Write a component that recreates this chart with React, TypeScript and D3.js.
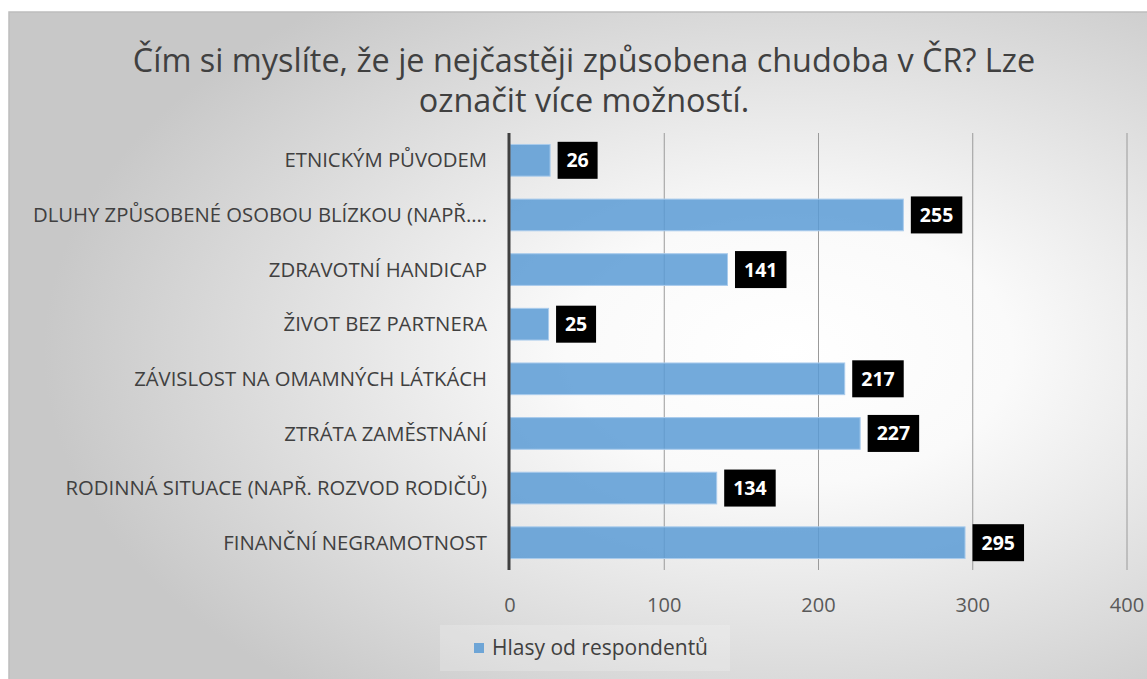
import React from "react";
import * as d3 from "d3";

const categories = [
  "ETNICKÝM PŮVODEM",
  "DLUHY ZPŮSOBENÉ OSOBOU BLÍZKOU (NAPŘ.…",
  "ZDRAVOTNÍ HANDICAP",
  "ŽIVOT BEZ PARTNERA",
  "ZÁVISLOST NA OMAMNÝCH LÁTKÁCH",
  "ZTRÁTA ZAMĚSTNÁNÍ",
  "RODINNÁ SITUACE (NAPŘ. ROZVOD RODIČŮ)",
  "FINANČNÍ NEGRAMOTNOST",
];
const values = [26, 255, 141, 25, 217, 227, 134, 295];
const ticks = [0, 100, 200, 300, 400];
const titleLines = [
  "Čím si myslíte, že je nejčastěji způsobena chudoba v ČR? Lze",
  "označit více možností.",
];
const seriesName = "Hlasy od respondentů";

const W = 1147;
const H = 679;
const FONT = "'Open Sans', 'DejaVu Sans', sans-serif";

export default function App() {
  const x = d3.scaleLinear().domain([0, 400]).range([510, 1127]);
  const y = d3
    .scaleBand<string>()
    .domain(categories)
    .range([133, 570])
    .paddingInner(0.42)
    .paddingOuter(0.21);
  const [y0, y1] = y.range();

  return (
    <svg
      width={W}
      height={H}
      style={{ position: "absolute", left: 0, top: 0, display: "block" }}
    >
      <defs>
        <radialGradient id="bg" cx="0.68" cy="0.5" r="0.65" fx="0.68" fy="0.5">
          <stop offset="0" stopColor="#ffffff" />
          <stop offset="0.3" stopColor="#fafafa" />
          <stop offset="1" stopColor="#c8c8c8" />
        </radialGradient>
      </defs>
      <rect x={0} y={0} width={W} height={H} fill="#ffffff" />
      <rect x={9} y={12} width={W} height={H} fill="url(#bg)" stroke="#bdbdbd" strokeWidth={1.5} />

      {titleLines.map((t, i) => (
        <text
          key={i}
          x={584}
          y={72 + i * 40}
          textAnchor="middle"
          fontFamily={FONT}
          fontSize={32.4}
          fill="#404040"
        >
          {t}
        </text>
      ))}

      {ticks.slice(1).map((t) => (
        <line key={t} x1={x(t)} x2={x(t)} y1={y0} y2={y1} stroke="#9a9a9a" strokeWidth={1} />
      ))}

      {categories.map((c, i) => {
        const v = values[i];
        const by = y(c)!;
        const bw = y.bandwidth();
        const cy = by + bw / 2;
        const txt = String(v);
        const boxW = txt.length * 11.5 + 17;
        const bx = x(v) + 7.5;
        return (
          <g key={c}>
            <rect
              x={x(0)}
              y={by}
              width={x(v) - x(0)}
              height={bw}
              fill="#5b9bd5"
              fillOpacity={0.85}
              stroke="#a9cbec"
              strokeWidth={1}
            />
            <text
              x={487}
              y={cy}
              dy="0.35em"
              textAnchor="end"
              fontFamily={FONT}
              fontSize={20.3}
              fill="#404040"
            >
              {c}
            </text>
            <rect x={bx} y={cy - 18.5} width={boxW} height={37} fill="#000000" />
            <text
              x={bx + boxW / 2}
              y={cy}
              dy="0.36em"
              textAnchor="middle"
              fontFamily={FONT}
              fontSize={19.5}
              fontWeight={700}
              fill="#ffffff"
            >
              {txt}
            </text>
          </g>
        );
      })}

      <line x1={x(0) - 1} x2={x(0) - 1} y1={y0} y2={y1} stroke="#404040" strokeWidth={3} />

      {ticks.map((t) => (
        <text
          key={t}
          x={x(t)}
          y={605}
          dy="0.35em"
          textAnchor="middle"
          fontFamily={FONT}
          fontSize={20}
          fill="#595959"
        >
          {t}
        </text>
      ))}

      <rect x={440} y={625} width={290} height={46} fill="#ffffff" fillOpacity={0.2} />
      <rect x={474} y={643} width={10} height={10} fill="#5b9bd5" fillOpacity={0.85} />
      <text
        x={492}
        y={648}
        dy="0.35em"
        fontFamily={FONT}
        fontSize={21}
        fill="#404040"
      >
        {seriesName}
      </text>
    </svg>
  );
}
